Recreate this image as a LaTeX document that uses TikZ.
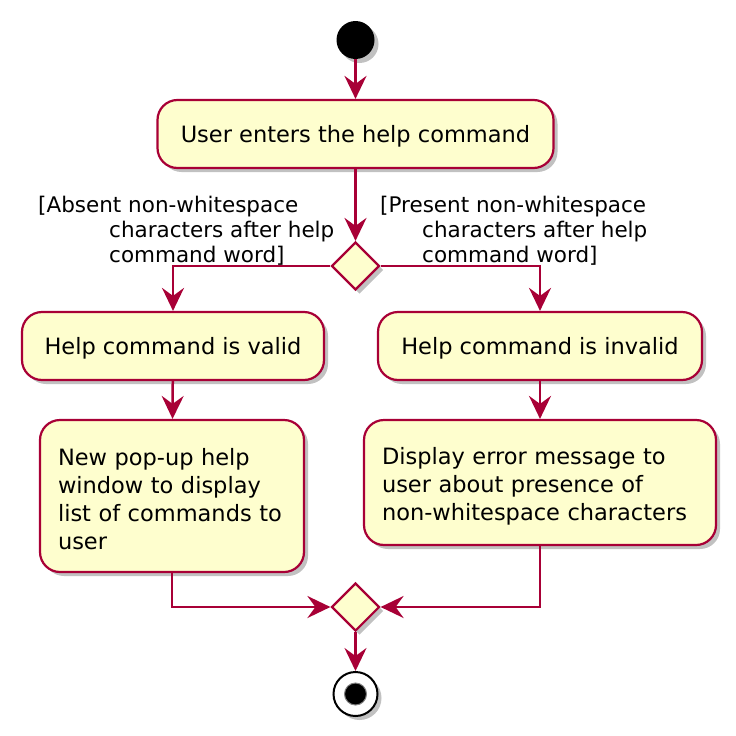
\documentclass[tikz,border=0pt]{standalone}
\usepackage{fontspec}
\setmainfont{DejaVu Sans}
\usetikzlibrary{arrows.meta,shadows,shapes.geometric}
\definecolor{umlred}{HTML}{A80036}
\definecolor{umlfill}{HTML}{FEFECE}
\tikzset{
  shd/.style={drop shadow={shadow xshift=4pt,shadow yshift=-4pt,opacity=0.35,fill=black!70}},
  actbox/.style={draw=umlred,fill=umlfill,line width=2.2pt,rounded corners=20pt,shd,
    font=\fontsize{22.5}{28}\selectfont,inner sep=0pt},
  decision/.style={diamond,draw=umlred,fill=umlfill,line width=2.2pt,shd,
    minimum width=48pt,minimum height=48pt,inner sep=0pt,aspect=1},
  flow/.style={draw=umlred,line width=2.5pt,-{Stealth[length=23pt,width=22pt,inset=8pt]}},
  guard/.style={font=\fontsize{21.5}{25}\selectfont,align=left,inner sep=0pt,anchor=north west}
}
\begin{document}
\begin{tikzpicture}[x=1pt,y=-1pt]
\useasboundingbox (0,0) rectangle (736,736);
% start
\node[circle,fill=black,minimum size=38pt,inner sep=0pt,shd] (start) at (355.5,40) {};
% boxes
\node[actbox,minimum width=396pt,minimum height=68pt,text height=20pt,text depth=4pt] (enter) at (355.5,134) {User enters the help command};
\node[decision] (split) at (355.5,266) {};
\node[actbox,minimum width=302pt,minimum height=68pt,text height=20pt,text depth=4pt] (valid) at (173,346) {Help command is valid};
\node[actbox,minimum width=324pt,minimum height=68pt,text height=20pt,text depth=4pt] (invalid) at (540,346) {Help command is invalid};
\node[actbox,minimum width=264pt,minimum height=152pt,text width=228pt,align=left] (popup) at (172,496)
  {\rule{0pt}{24pt}New pop-up help\\window to display\\list of commands to\\user};
\node[actbox,minimum width=352pt,minimum height=125pt,text width=316pt,align=left] (error) at (540,482.5)
  {\rule{0pt}{24pt}Display error message to\\user about presence of\\non-whitespace characters};
\node[decision] (merge) at (355.5,607) {};
% end
\node[circle,draw=black,fill=white,line width=2pt,minimum size=44pt,inner sep=0pt,shd] (stop) at (355.5,694) {};
\node[circle,fill=black,draw=black!50,line width=1pt,minimum size=22pt,inner sep=0pt] (stopin) at (355.5,694) {};
% guards
\node[guard] (gl1) at (38,196) {[Absent non-whitespace};
\node[guard] (gl2) at (109,221) {characters after help\\command word]};
\node[guard] (gr1) at (380,196) {[Present non-whitespace};
\node[guard] (gr2) at (422,221) {characters after help\\command word]};
% connectors
\draw[flow] (start) -- (enter);
\draw[flow] (enter) -- (split);
\draw[flow] (split.west) -| (valid.north);
\draw[flow] (split.east) -| (invalid.north);
\draw[flow] (valid) -- (popup);
\draw[flow] (invalid) -- (error);
\draw[flow] (popup.south) |- (merge.west);
\draw[flow] (error.south) |- (merge.east);
\draw[flow] (merge) -- (stop);
\end{tikzpicture}
\end{document}
